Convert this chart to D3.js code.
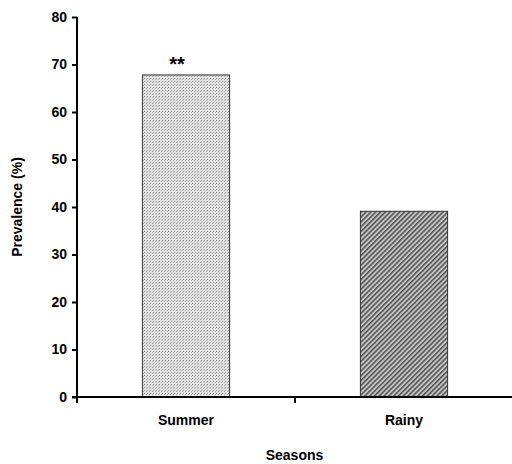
<!DOCTYPE html>
<html>
<head>
<meta charset="utf-8">
<script src="https://cdn.jsdelivr.net/npm/d3@7"></script>
<style>
	body { margin: 0; background: #fff; }
	text { font-family: "Liberation Sans", Arial, sans-serif; font-weight: bold; fill: #000; }
</style>
</head>
<body>
<div id="chart"></div>
<script>
const seasons = ["Summer", "Rainy"];
const prevalence = [67.8, 39.1];
const marks = ["**", ""];
const yTicks = [0, 10, 20, 30, 40, 50, 60, 70, 80];

(function() {
	const width = 512, height = 464;
	const svg = d3.select("#chart").append("svg")
		.attr("width", width).attr("height", height);

	const defs = svg.append("defs");
	// fine stipple for summer
	const dots = defs.append("pattern").attr("id", "dots")
		.attr("patternUnits", "userSpaceOnUse").attr("width", 3).attr("height", 3);
	dots.append("rect").attr("width", 3).attr("height", 3).attr("fill", "#e2e2e2");
	dots.append("rect").attr("width", 1).attr("height", 1).attr("fill", "#8a8a8a");
	dots.append("rect").attr("x", 2).attr("y", 1).attr("width", 1).attr("height", 1).attr("fill", "#aaa");
	// diagonal hatch for rainy
	const hatch = defs.append("pattern").attr("id", "hatch")
		.attr("patternUnits", "userSpaceOnUse").attr("width", 3.4).attr("height", 3.4)
		.attr("patternTransform", "rotate(45)");
	hatch.append("rect").attr("width", 3.4).attr("height", 3.4).attr("fill", "#c4c4c4");
	hatch.append("rect").attr("width", 1.5).attr("height", 3.4).attr("fill", "#505050");

	const x = d3.scaleBand().domain(seasons).range([77, 513])
		.paddingInner(0.6).paddingOuter(0.3);
	const y = d3.scaleLinear().domain([0, 80]).range([397, 17]);

	const fills = ["url(#dots)", "url(#hatch)"];

	svg.selectAll("rect.bar").data(seasons).join("rect")
		.attr("class", "bar")
		.attr("x", d => x(d)).attr("width", x.bandwidth())
		.attr("y", (d, i) => y(prevalence[i]))
		.attr("height", (d, i) => y(0) - y(prevalence[i]))
		.attr("fill", (d, i) => fills[i])
		.attr("stroke", "#333").attr("stroke-width", 1);

	svg.selectAll("text.mark").data(seasons).join("text")
		.attr("class", "mark")
		.attr("x", d => x(d) + x.bandwidth() / 2 - 9)
		.attr("y", (d, i) => y(prevalence[i]) - 4)
		.attr("text-anchor", "middle").attr("font-size", 20)
		.text((d, i) => marks[i]);

	// y axis
	const yAxis = svg.append("g").attr("transform", "translate(77,0)")
		.call(d3.axisLeft(y).tickValues(yTicks).tickSize(5).tickPadding(5));
	yAxis.select(".domain").attr("d", `M0,${y(80)}V${y(0) + 6}`).attr("stroke-width", 2);
	yAxis.selectAll(".tick line").attr("stroke-width", 2);
	yAxis.selectAll("text").attr("font-size", 14).attr("font-family", "Liberation Sans, Arial").attr("font-weight", "bold");

	// x axis
	const xAxis = svg.append("g").attr("transform", `translate(0,${y(0)})`)
		.call(d3.axisBottom(x).tickSize(0).tickPadding(18));
	xAxis.select(".domain").attr("d", "M72,0H512").attr("stroke-width", 2);
	xAxis.selectAll("text").attr("font-size", 14).attr("font-family", "Liberation Sans, Arial").attr("font-weight", "bold");
	// middle tick between categories
	const mid = (x(seasons[0]) + x.bandwidth() / 2 + x(seasons[1]) + x.bandwidth() / 2) / 2;
	xAxis.append("line").attr("x1", mid).attr("x2", mid).attr("y1", 0).attr("y2", 6)
		.attr("stroke", "#000").attr("stroke-width", 2);

	svg.append("text").attr("x", (77 + 512) / 2).attr("y", 460)
		.attr("text-anchor", "middle").attr("font-size", 14).text("Seasons");

	svg.append("text")
		.attr("transform", `translate(22,${(y(0) + y(80)) / 2}) rotate(-90)`)
		.attr("text-anchor", "middle").attr("font-size", 14).text("Prevalence (%)");
})();
</script>
</body>
</html>
